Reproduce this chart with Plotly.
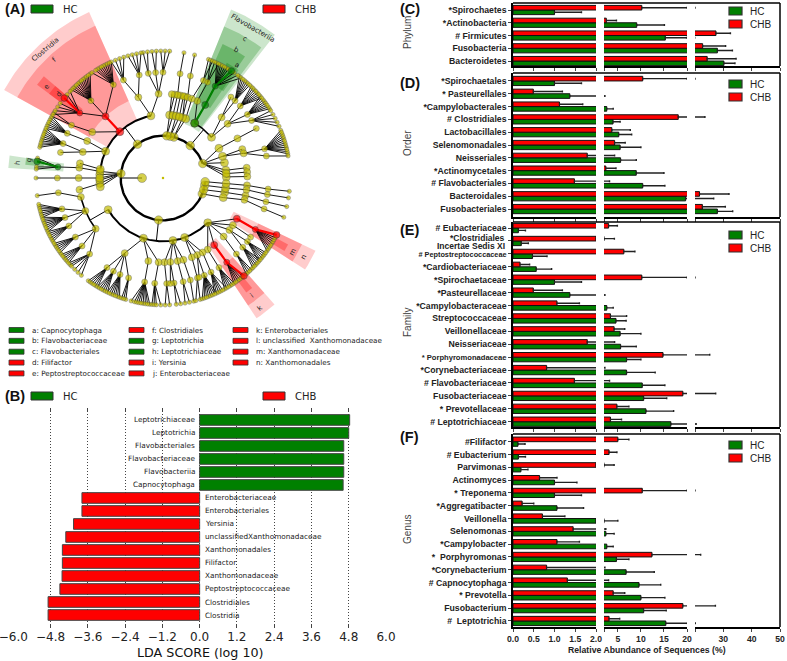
import numpy as np
import plotly.graph_objects as go

W, H = 787, 661
GREEN = '#008000'
RED = '#ff0000'
SANS = 'Liberation Sans'
DJV = 'DejaVu Sans'


def fx(a):
    return a / W


def fy(a):
    return 1 - a / H


# ---- cladogram data: angle clockwise from north, level = ring number
level_r = [0, 63, 127, 190, 253, 317, 381]
bracket_clades = [
    (270, 1, 2, [95, 100, 106, 112, 186, 276, 323, 365, 370, 375, 400, 430], 2.4),
    (186, 2, 3, [135, 160, 171, 198, 240], 2.0),
    (323, 2, 3, [278, 295, 317, 349], 2.0),
    (400, 2, 3, [390, 410], 1.6),
    (240, 3, 4, [233, 247, 257], 1.6),
]
fan_clades = [
    (5, 2, 3, [6, 9]), (10, 2, 3, [12, 15]), (15, 2, 3, [18, 21]),
    (6, 3, 4, [6, 8]), (9, 3, 4, [10]), (12, 3, 4, [12]), (15, 3, 4, [14]), (18, 3, 4, [15, 17]), (21, 3, 4, [20]),
    (10, 4, 5, [9.3]), (17, 4, 5, [15]), (20, 4, 5, [22.5]),
    (9.3, 5, 6, [9.5]), (15, 5, 6, [14.4]), (22.5, 5, 6, [21, 23]),
    (30, 3, 4, [30, 24]), (30, 4, 5, [29.6]), (24, 4, 5, [25]), (25, 5, 6, [22, 24, 26]),
    (29.6, 5, 6, [25, 26, 27, 28, 29, 30, 31, 32.6, 34, 36, 38]),
    (50, 3, 4, [50, 44]), (44, 4, 5, [40, 43]), (43, 5, 6, [37, 38, 39, 40, 41, 42, 43]),
    (50, 4, 5, [47, 53, 57]), (47, 5, 6, [44, 45, 46, 47, 48, 49, 50, 51]),
    (53, 5, 6, [50, 51, 52, 53, 54, 55, 56, 57]), (57, 5, 6, [58, 60, 62, 64, 66]),
    (70, 2, 3, [62, 70, 76, 83, 86, 89]), (62, 3, 4, [62]), (62, 4, 5, [62]),
    (70, 3, 4, [70, 73]), (73, 4, 5, [74, 78]),
    (74, 5, 6, [68, 69, 70, 71, 72, 73, 74, 75, 76, 77, 78, 79]), (78, 5, 6, [80]),
    (83, 3, 4, [83]), (86, 3, 4, [86]), (89, 3, 4, [89]),
    (95, 2, 3, [95]), (100, 2, 3, [99]), (106, 2, 3, [103]), (112, 2, 3, [108]),
    (95, 3, 4, [95]), (99, 3, 4, [98]), (103, 3, 4, [102]), (108, 3, 4, [105]),
    (95, 4, 5, [96]), (98, 4, 5, [99]), (102, 4, 5, [103]), (105, 4, 5, [107]),
    (96, 5, 6, [96]), (99, 5, 6, [99]), (103, 5, 6, [103]), (107, 5, 6, [108]),
    (135, 3, 4, [118.9, 124, 128, 134, 142.6, 148]),
    (118.9, 4, 5, [119.1]), (119.1, 5, 6, [116.6, 118, 119, 120, 121, 122, 123, 124, 125]), (124, 4, 5, [124]),
    (128, 4, 5, [127, 131]), (127, 5, 6, [126, 127, 128, 129, 130, 131]), (131, 5, 6, [130, 131, 132, 133, 134, 135]),
    (134, 4, 5, [136]), (136, 5, 6, [136, 137, 138, 139]),
    (142.6, 4, 5, [142.9]), (142.9, 5, 6, [140.4, 141, 142, 143, 144, 145, 146]),
    (148, 4, 5, [148]), (148, 5, 6, [146, 147, 148, 149, 150, 151]),
    (160, 3, 4, [152, 156, 160]), (152, 4, 5, [153]), (153, 5, 6, [150, 152, 153, 154, 155, 156]),
    (156, 4, 5, [157, 160]), (157, 5, 6, [155, 156, 157, 158, 159, 160, 161, 162]),
    (160, 4, 5, [161]), (161, 5, 6, [163, 165]),
    (171, 3, 4, [166, 170, 175, 179]), (166, 4, 5, [165]), (170, 4, 5, [169]), (175, 4, 5, [174, 176]), (179, 4, 5, [178]),
    (165, 5, 6, [166]), (169, 5, 6, [168, 170]), (174, 5, 6, [172, 174]), (178, 5, 6, [177, 179]),
    (198, 3, 4, [183, 190, 207]), (183, 4, 5, [184.5]), (190, 4, 5, [190]), (184.5, 5, 6, [181, 183, 184, 185]),
    (190, 5, 6, [186, 187, 188, 189, 190, 191, 192, 193, 194.5]), (207, 4, 5, [199, 204, 208, 212]),
    (199, 5, 6, [197, 198, 199]), (204, 5, 6, [200, 201, 202, 203, 204, 205, 206]),
    (208, 5, 6, [206, 207, 208, 209, 210, 211]), (212, 5, 6, [211, 212, 213, 214, 215, 216]),
    (233, 4, 5, [224, 230, 236]), (224, 5, 6, [220, 222, 224, 226, 227, 228]),
    (230, 5, 6, [228, 229, 230, 231, 232, 233]), (236, 5, 6, [234, 235, 236, 237, 238, 239]),
    (247, 4, 5, [243, 248, 253]), (243, 5, 6, [240, 241, 242, 243, 244, 245]),
    (248, 5, 6, [245, 246, 247, 248, 249, 250, 251, 252]), (253, 5, 6, [252, 253, 254, 255, 256, 257, 258]),
    (257, 4, 5, [262]), (262, 5, 6, [262]),
    (276, 2, 3, [262, 265, 268, 270, 273, 276]), (276, 3, 4, [277]), (270, 3, 4, [270]), (265, 3, 4, [262]),
    (277, 4, 5, [276]), (270, 4, 5, [270]), (276, 5, 6, [274, 275, 277.5, 279]), (270, 5, 6, [270]),
    (278, 3, 4, [280]), (295, 3, 4, [288, 296]), (288, 4, 5, [284, 289]), (296, 4, 5, [295]),
    (289, 5, 6, [284, 285, 286, 287, 288, 289, 290, 291, 292, 293]), (295, 5, 6, [293, 294, 295, 296, 297, 298, 299]),
    (317, 3, 4, [317, 303]), (303, 4, 5, [300]), (300, 5, 6, [299, 301]),
    (317, 4, 5, [308, 317, 332]), (308, 5, 6, [300, 302, 304, 306, 309, 311, 313]),
    (317, 5, 6, [314, 315, 316, 317, 318, 319, 320, 321, 322, 323, 324, 325]),
    (332, 5, 6, [326, 328, 329, 330, 331, 332, 333, 334, 335, 336]),
    (349, 3, 4, [343, 357]), (343, 4, 5, [338, 347]), (357, 4, 5, [352, 356, 360]),
    (338, 5, 6, [336, 338, 340, 342]), (347, 5, 6, [344, 346, 348, 350]), (352, 5, 6, [351, 353]),
    (356, 5, 6, [355, 357]), (360, 5, 6, [359, 361, 363]),
]
green_chains = [[(30, 3), (30, 4), (29.6, 5), (32.6, 6)], [(276, 5), (277.5, 6)]]
red_chains = [[(317, 3), (317, 4)], [(308, 5), (309, 6)], [(142.6, 4), (142.9, 5), (140.4, 6)], [(118.9, 4), (119.1, 5), (116.6, 6)]]
# clade wedges: angle from, angle to, inner r, outer r, colour
clade_wedges = [
    (299, 336, 190, 545, 'rgba(255,0,0,0.2)'), (299, 336, 253, 500, 'rgba(255,0,0,0.25)'),
    (306.5, 310.5, 317, 470, 'rgba(255,0,0,0.3)'), (306.5, 310.5, 381, 425, 'rgba(255,0,0,0.3)'),
    (22, 38, 175, 545, 'rgba(0,128,0,0.2)'), (22, 37, 190, 490, 'rgba(0,128,0,0.25)'),
    (24, 34, 253, 440, 'rgba(0,128,0,0.3)'), (29, 35, 317, 395, 'rgba(0,128,0,0.3)'),
    (273.7, 278.3, 300, 465, 'rgba(0,128,0,0.2)'), (275.5, 278.5, 360, 415, 'rgba(0,128,0,0.3)'),
    (115.5, 122.8, 235, 507, 'rgba(255,0,0,0.2)'), (115.5, 122.8, 317, 462, 'rgba(255,0,0,0.25)'),
    (138.6, 146.3, 240, 506, 'rgba(255,0,0,0.2)'), (138.6, 146.3, 317, 460, 'rgba(255,0,0,0.25)'),
    (141, 144, 381, 425, 'rgba(255,0,0,0.3)'), (118, 121, 381, 425, 'rgba(255,0,0,0.3)'),
]
node_size = [0, 9, 8.5, 8, 7, 6, 4.2]

legend_a_col1 = ['a: Capnocytophaga', 'b: Flavobacteriaceae', 'c: Flavobacteriales', 'd: Filifactor', 'e: Peptostreptococcaceae']
legend_a_col2 = ['f: Clostridiales', 'g: Leptotrichia', 'h: Leptotrichiaceae', 'i: Yersinia', 'j: Enterobacteriaceae']
legend_a_col3 = ['k: Enterobacteriales', 'l: unclassified  Xanthomonadaceae', 'm: Xanthomonadaceae', 'n: Xanthomonadales']
legend_a_col1_colors = [GREEN, GREEN, GREEN, RED, RED]
legend_a_col2_colors = [RED, GREEN, GREEN, RED, RED]
legend_a_col3_colors = [RED, RED, RED, RED]

# ---- LDA bars, top to bottom
lda_names = ['Leptotrichiaceae', 'Leptotrichia', 'Flavobacteriales', 'Flavobacteriaceae', 'Flavobacteriia', 'Capnocytophaga',
             'Enterobacteriaceae', 'Enterobacteriales', 'Yersinia', 'unclassifiedXanthomonadaceae', 'Xanthomonadales',
             'Filifactor', 'Xanthomonadaceae', 'Peptostreptococcaceae', 'Clostridiales', 'Clostridia']
lda_scores = [4.83, 4.80, 4.64, 4.64, 4.64, 4.62, -3.79, -3.79, -4.06, -4.31, -4.42, -4.42, -4.43, -4.50, -4.88, -4.88]
lda_ticks = [-6, -4.8, -3.6, -2.4, -1.2, 0, 1.2, 2.4, 3.6, 4.8, 6]

# ---- abundance panels, top to bottom
phylum_names = ['*Spirochaetes', '*Actinobacteria', '# Firmicutes', 'Fusobacteria', 'Bacteroidetes']
phylum_hc = [1.0, 9.1, 15.3, 27.9, 30.2]
phylum_hc_top = [1.65, 15.1, 19.9, 33.2, 34.1]
phylum_chb = [10.2, 2.5, 27.4, 22.7, 24.3]
phylum_chb_top = [20, 4.7, 32.5, 30.8, 34.5]

order_names = ['*Spirochaetales', '* Pasteurellales', '*Campylobacterales', '# Clostridiales', 'Lactobacillales',
               'Selenomonadales', 'Neisseriales', '*Actinomycetales', '# Flavobacteriales', 'Bacteroidales', 'Fusobacteriales']
order_hc = [1.0, 1.37, 2.6, 3.96, 5.2, 5.5, 5.6, 9.0, 10.4, 19.7, 27.9]
order_hc_top = [1.65, 2.2, 4.0, 5.5, 8.0, 10.0, 9.0, 15.0, 15.2, 26.6, 33.3]
order_chb = [10.4, 0.49, 1.12, 18.1, 3.7, 4.3, 1.79, 2.4, 1.48, 21.6, 22.6]
order_chb_top = [20, 1.19, 1.68, 23.5, 7.7, 6.6, 4.3, 4.6, 3.2, 32, 30.7]

# the two line label of the second row is written as separate texts further down
family_names = ['# Eubacteriaceae', '',
                '<span style="font-size:7.3px"># Peptostreptococcaceae</span>', '*Cardiobacteriaceae', '*Spirochaetaceae',
                '*Pasteurellaceae', '*Campylobacteraceae', 'Streptococcaceae', 'Veillonellaceae', 'Neisseriaceae',
                '<span style="font-size:7.6px">* Porphyromonadaceae</span>', '*Corynebacteriaceae', '# Flavobacteriaceae',
                'Fusobacteriaceae', '* Prevotellaceae', '# Leptotrichiaceae']
family_hc = [0.13, 0.2, 0.47, 0.56, 1.0, 1.37, 2.6, 4.6, 5.5, 5.6, 6.9, 6.9, 10.3, 10.6, 11.1, 16.5]
family_hc_top = [0.3, 0.37, 0.82, 0.93, 1.65, 2.2, 4.0, 6.8, 10, 9, 10, 13.1, 15.2, 15.6, 17.1, 20.4]
family_chb = [3.0, 2.0, 6.3, 0.17, 10.2, 0.49, 1.06, 3.4, 4.2, 1.79, 14.8, 0.81, 1.48, 19.1, 4.8, 3.4]
family_chb_top = [4.9, 4.25, 8.7, 0.4, 20, 1.19, 1.6, 6.9, 6.5, 4.3, 25.2, 2.2, 3.2, 27.3, 7.4, 5.8]

genus_names = ['#Filifactor', '# Eubacterium', 'Parvimonas', 'Actinomyces', '* Treponema', '*Aggregatibacter', 'Veillonella',
               'Selenomonas', '*Campylobacter', '*  Porphyromonas', '*Corynebacterium', '# Capnocytophaga', '* Prevotella',
               'Fusobacterium', '#  Leptotrichia']
genus_hc = [0.12, 0.13, 0.19, 1.0, 1.0, 1.06, 2.0, 2.4, 2.6, 4.7, 6.8, 9.6, 10, 10.6, 15.4]
genus_hc_top = [0.29, 0.3, 0.36, 1.54, 1.65, 1.7, 5.0, 4.2, 4.0, 7.4, 12.9, 14.3, 15.2, 15.5, 20.1]
genus_chb = [5.0, 3.1, 2.0, 0.64, 10.3, 0.22, 0.71, 1.45, 1.06, 12.4, 0.81, 1.31, 4.0, 19.1, 3.1]
genus_chb_top = [7.4, 4.8, 4.2, 1.06, 20, 0.5, 1.25, 2.4, 1.6, 22, 2.2, 3.0, 6.5, 27.2, 5.4]

fig = go.Figure()
shapes = []
notes = []


# texts sit on a hidden axis pair that spans the page
def note(x, y, text, size, family=DJV, color='#222', angle=0, anchor='left', weight='normal'):
    notes.append(dict(x=x, y=y, xref='x20', yref='y20', text=text, showarrow=False, textangle=angle,
                      xanchor=anchor, yanchor='middle', font=dict(size=size, family=family, color=color, weight=weight)))


def swatch(x0, x1, y0, y1, color, lw=1):
    shapes.append(dict(type='rect', xref='paper', yref='paper', x0=fx(x0), x1=fx(x1), y0=fy(y0), y1=fy(y1),
                       fillcolor=color, line=dict(color='#333', width=lw)))


def polar_xy(angle, r):
    a = np.radians(angle)
    return r * np.sin(a), r * np.cos(a)


# ---- panel A
for a0, a1, r0, r1, col in clade_wedges:
    arc = np.linspace(a0, a1, 30)
    xo, yo = polar_xy(arc, r1)
    xi, yi = polar_xy(arc[::-1], r0)
    fig.add_trace(go.Scatter(x=np.r_[xo, xi, xo[0]], y=np.r_[yo, yi, yo[0]], fill='toself', fillcolor=col, mode='lines',
                             line=dict(width=0), xaxis='x', yaxis='y', hoverinfo='skip'))

for pa, pl, cl, kids, lw in bracket_clades:
    arc = np.linspace(min(kids), max(kids), 120)
    ax, ay = polar_xy(arc, level_r[cl])
    fig.add_trace(go.Scatter(x=ax, y=ay, mode='lines', line=dict(color='black', width=lw), xaxis='x', yaxis='y', hoverinfo='skip'))
    sx, sy = polar_xy(np.array([pa, pa]), np.array([level_r[pl], level_r[cl]]))
    fig.add_trace(go.Scatter(x=sx, y=sy, mode='lines', line=dict(color='black', width=1), xaxis='x', yaxis='y', hoverinfo='skip'))

edge_x, edge_y = [], []
for pa, pl, cl, kids in fan_clades:
    px_, py_ = polar_xy(pa, level_r[pl])
    for k in kids:
        kx, ky = polar_xy(k, level_r[cl])
        edge_x += [px_, kx, None]
        edge_y += [py_, ky, None]
fig.add_trace(go.Scatter(x=edge_x, y=edge_y, mode='lines', line=dict(color='black', width=0.9), xaxis='x', yaxis='y', hoverinfo='skip'))

for chains, col in ((green_chains, GREEN), (red_chains, RED)):
    for chain in chains:
        cx, cy = polar_xy(np.array([c[0] for c in chain]), np.array([level_r[c[1]] for c in chain]))
        fig.add_trace(go.Scatter(x=cx, y=cy, mode='lines', line=dict(color=col, width=2.2), xaxis='x', yaxis='y', hoverinfo='skip'))

green_nodes = [n for chain in green_chains for n in chain]
red_nodes = [n for chain in red_chains for n in chain]
node_set = {(270, 1)}
for pa, pl, cl, kids, lw in bracket_clades:
    node_set |= {(k, cl) for k in kids}
for pa, pl, cl, kids in fan_clades:
    node_set |= {(k, cl) for k in kids}
node_set -= set(green_nodes) | set(red_nodes)
nodes = sorted(node_set, key=lambda n: -n[1])
nx, ny = polar_xy(np.array([n[0] for n in nodes]), np.array([level_r[n[1]] for n in nodes]))
fig.add_trace(go.Scatter(x=nx, y=ny, mode='markers', xaxis='x', yaxis='y', hoverinfo='skip',
                         marker=dict(color='#c4bd00', size=[node_size[n[1]] for n in nodes], line=dict(color='#444', width=0.5))))
fig.add_trace(go.Scatter(x=[0], y=[0], mode='markers', xaxis='x', yaxis='y', hoverinfo='skip', marker=dict(color='#c4bd00', size=2.5)))
for group, col in ((green_nodes, GREEN), (red_nodes, RED)):
    hx, hy = polar_xy(np.array([n[0] for n in group]), np.array([level_r[n[1]] for n in group]))
    fig.add_trace(go.Scatter(x=hx, y=hy, mode='markers', xaxis='x', yaxis='y', hoverinfo='skip',
                             marker=dict(color=col, size=[node_size[n[1]] + (2.5 if n[1] == 6 else 0) for n in group], line=dict(color='#222', width=0.6))))

# letters on the clade wedges
for zx, zy, text, ang in [(135, 150, 'Clostridia', -40), (162, 180, 'f', -40), (140, 262, 'e', -52), (178, 283, 'd', -52),
                          (735, 117, 'c', 28), (708, 150, 'b', 28), (710, 195, 'a', 28), (757, 85, 'Flavobacteriia', 30),
                          (52, 488, 'h', -84), (88, 480, 'g', -84), (912, 772, 'n', -62), (878, 755, 'm', -62),
                          (782, 925, 'k', -38), (755, 887, 'i', -38)]:
    note(zx / 3, zy / 3, text, 7, anchor='center', angle=ang)

for y0, name in ((9, 'A'), (396, 'B')):
    note(3, y0, '(%s)' % name, 14.5, family=SANS, color='#111', weight='bold')
for y0 in (9, 396):
    swatch(31, 53, y0 - 4, y0 + 4, GREEN)
    note(61, y0, 'HC', 10)
    swatch(263, 285, y0 - 4, y0 + 4, RED)
    note(293, y0, 'CHB', 10)

for names, cols, sx0, tx in ((legend_a_col1, legend_a_col1_colors, 9, 30), (legend_a_col2, legend_a_col2_colors, 129, 150),
                             (legend_a_col3, legend_a_col3_colors, 233, 254)):
    for i, (name, col) in enumerate(zip(names, cols)):
        yy = 330 + i * 10.85
        swatch(sx0, sx0 + 15, yy - 2.5, yy + 2.5, col, lw=0.8)
        note(tx, yy, name, 7.2)

# ---- panel B
row = list(range(15, -1, -1))
lda_colors = [GREEN if v > 0 else RED for v in lda_scores]
fig.add_trace(go.Bar(x=lda_scores, y=row, orientation='h', width=0.82, xaxis='x2', yaxis='y2', hoverinfo='skip',
                     marker=dict(color=lda_colors, line=dict(color='#444', width=1))))
for name, val, r in zip(lda_names, lda_scores, row):
    notes.append(dict(x=0, y=r, xref='x2', yref='y2', text=name, showarrow=False, xshift=-3 if val > 0 else 3,
                      xanchor='right' if val > 0 else 'left', font=dict(size=7.3, family=DJV, color='#222')))
note(200, 652, 'LDA SCORE (log 10)', 12.7, anchor='center', color='#111')

# ---- panels C-F, every panel draws its bars in three broken x segments
segments = [(513, 596, [0, 2], [0, 0.5, 1, 1.5, 2], ['0.0', '0.5', '1.0', '1.5', '2.0']),
            (604, 687, [2, 20], [2, 5, 10, 15, 20], ['', '5', '10', '15', '20']),
            (695, 780, [20, 50], [20, 30, 40, 50], ['', '30', '40', '50'])]
panels = [(phylum_names, phylum_hc, phylum_hc_top, phylum_chb, phylum_chb_top, 3, 66, [-0.39, 4.55], 'C', 9, 'Phylum', 33, 11),
          (order_names, order_hc, order_hc_top, order_chb, order_chb_top, 73, 217, [-0.62, 10.62], 'D', 83, 'Order', 143, 84),
          (family_names, family_hc, family_hc_top, family_chb, family_chb_top, 222, 427, [-0.41, 15.47], 'E', 230, 'Family', 323, 235),
          (genus_names, genus_hc, genus_hc_top, genus_chb, genus_chb_top, 434, 627, [-0.47, 14.6], 'F', 437, 'Genus', 530, 445)]

layout_axes = {}
ax_id = 3
for p, (names, hc, hc_top, chb, chb_top, top, bottom, yr, letter, ly, title, ty, lgy) in enumerate(panels):
    rows = list(range(len(names) - 1, -1, -1))
    yname = 'y%d' % (3 + p)
    yaxis_key = 'yaxis%d' % (3 + p)
    first_x = 'x%d' % ax_id
    layout_axes[yaxis_key] = dict(domain=[fy(bottom), fy(top)], range=yr, anchor=first_x, tickvals=rows, ticktext=names,
                                  ticks='outside', ticklen=3, tickwidth=1, showline=True, linecolor='black', linewidth=1.5,
                                  showgrid=False, zeroline=False,
                                  tickfont=dict(size=8.7, family=SANS, color='#222', weight='bold'))
    for s, (x0, x1, xr, tv, tt) in enumerate(segments):
        xname = 'x%d' % ax_id
        layout_axes['xaxis%d' % ax_id] = dict(domain=[fx(x0), fx(x1)], range=xr, anchor=yname, tickvals=tv, showgrid=False,
                                              ticktext=tt if letter == 'F' else [''] * len(tv), ticks='outside', ticklen=3,
                                              tickwidth=1, showline=True, linecolor='black', linewidth=1.5, zeroline=False,
                                              ticklabeloverflow='allow',
                                              tickfont=dict(size=8.6, family=SANS, color='#222', weight='bold'))
        for val, val_top, col in ((hc, hc_top, GREEN), (chb, chb_top, RED)):
            err = [t - v for t, v in zip(val_top, val)]
            fig.add_trace(go.Bar(x=val, y=rows, orientation='h', xaxis=xname, yaxis=yname, hoverinfo='skip',
                                 marker=dict(color=col, line=dict(color='#111', width=1)),
                                 error_x=dict(type='data', symmetric=False, array=err, arrayminus=[0] * len(err),
                                              color='#222', thickness=1.4, width=1)))
        ax_id += 1
    # top and right edge of the frame
    shapes.append(dict(type='line', xref='paper', yref='paper', x0=fx(513), x1=fx(780), y0=fy(top), y1=fy(top), line=dict(color='black', width=1.5)))
    shapes.append(dict(type='line', xref='paper', yref='paper', x0=fx(780), x1=fx(780), y0=fy(top), y1=fy(bottom), line=dict(color='black', width=1.5)))
    note(398, ly, '(%s)' % letter, 14.5, family=SANS, color='#111', weight='bold')
    note(407, ty, title, 10, family=SANS, color='#444', angle=-90, anchor='center')
    swatch(729, 742, lgy - 4, lgy + 4, GREEN, lw=1.2)
    note(748, lgy, 'HC', 10, family=SANS, color='#222')
    swatch(729, 742, lgy + 9, lgy + 17, RED, lw=1.2)
    note(748, lgy + 13, 'CHB', 10, family=SANS, color='#222')

note(507, 237.5, '*Clostridiales', 8.5, family=SANS, anchor='right', weight='bold')
note(507, 245.5, 'Incertae Sedis XI', 8.5, family=SANS, anchor='right', weight='bold')
note(647, 650, 'Relative Abundance of Sequences (%)', 8.7, family=SANS, color='#222', anchor='center', weight='bold')

# empty trace so the page axis pair exists for the annotations
fig.add_trace(go.Scatter(x=[0], y=[0], mode='markers', marker=dict(opacity=0), xaxis='x20', yaxis='y20', hoverinfo='skip'))

fig.update_layout(
    width=W, height=H, margin=dict(l=0, r=0, t=0, b=0, autoexpand=False), paper_bgcolor='white', plot_bgcolor='rgba(0,0,0,0)',
    showlegend=False, barmode='group', bargap=0.28, bargroupgap=0, shapes=shapes, annotations=notes,
    xaxis=dict(domain=[0, fx(340)], range=[-489, 531], visible=False),
    yaxis=dict(domain=[fy(320), 1], range=[-426, 534], visible=False),
    xaxis2=dict(domain=[fx(13.3), fx(386)], range=[-6, 6], tickvals=lda_ticks, tickformat='.1f', ticks='inside', ticklen=4,
                mirror='ticks', showgrid=True, gridcolor='#444', griddash='1px,2px', gridwidth=1, zeroline=False, anchor='y2',
                ticklabeloverflow='allow', tickfont=dict(size=12, family=DJV, color='#222')),
    yaxis2=dict(domain=[fy(628), fy(408)], range=[-1, 15.92], visible=False, anchor='x2'),
    xaxis20=dict(domain=[0, 1], range=[0, W], visible=False, anchor='y20'),
    yaxis20=dict(domain=[0, 1], range=[H, 0], visible=False, anchor='x20'),
    **layout_axes,
)
# the page adds a default 8px body margin around the graph
fig.write_html("out.html", config={'displayModeBar': False}, post_script="document.body.style.margin='0';")
